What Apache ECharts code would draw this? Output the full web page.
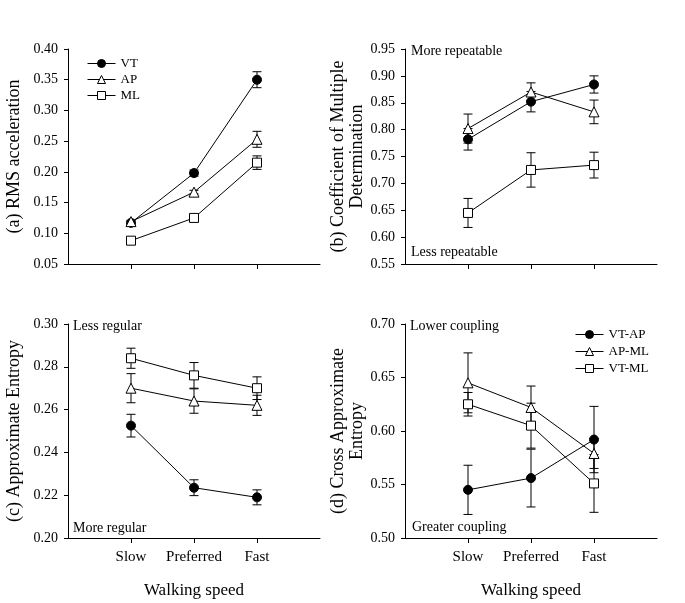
<!DOCTYPE html>
<html>
<head>
<meta charset="utf-8">
<script src="https://cdn.jsdelivr.net/npm/echarts@6/dist/echarts.min.js"></script>
<style>
  html, body { margin: 0; padding: 0; background: #fff; }
  #main { width: 685px; height: 603px; }
</style>
</head>
<body>
<div id="main"></div>
<script>
// walking speed categories, placed at x = 1, 2, 3
var speeds = ['Slow', 'Preferred', 'Fast'];
var speedX = [1, 2, 3];

// (a) RMS acceleration
var rmsVT = [0.117, 0.198, 0.350], rmsVTErr = [0.003, 0.005, 0.013];
var rmsAP = [0.119, 0.167, 0.253], rmsAPErr = [0.002, 0.003, 0.013];
var rmsML = [0.088, 0.125, 0.215], rmsMLErr = [0.002, 0.003, 0.011];

// (b) coefficient of multiple determination
var cmdVT = [0.782, 0.852, 0.884], cmdVTErr = [0.020, 0.019, 0.016];
var cmdAP = [0.802, 0.870, 0.833], cmdAPErr = [0.027, 0.017, 0.022];
var cmdML = [0.645, 0.725, 0.734], cmdMLErr = [0.027, 0.032, 0.024];

// (c) approximate entropy
var apeVT = [0.2525, 0.2235, 0.219], apeVTErr = [0.0053, 0.0037, 0.0035];
var apeAP = [0.270, 0.264, 0.262], apeAPErr = [0.0068, 0.0057, 0.0047];
var apeML = [0.284, 0.276, 0.270], apeMLErr = [0.0047, 0.006, 0.0053];

// (d) cross approximate entropy
var xapVTAP = [0.545, 0.556, 0.592], xapVTAPErr = [0.023, 0.027, 0.031];
var xapAPML = [0.645, 0.622, 0.579], xapAPMLErr = [0.028, 0.020, 0.014];
var xapVTML = [0.625, 0.605, 0.551], xapVTMLErr = [0.011, 0.021, 0.027];

var FONT = '"Liberation Serif", "Times New Roman", serif';

var chart = echarts.init(document.getElementById('main'));

var grids = [
  { left: 68, top: 49, width: 252, height: 215 },
  { left: 405, top: 49, width: 252, height: 215 },
  { left: 68, top: 324, width: 252, height: 214 },
  { left: 405, top: 324, width: 252, height: 214 }
];

function xAxis(idx, showLabels) {
  return {
    type: 'value', gridIndex: idx, min: 0, max: 4, interval: 1,
    axisLine: { lineStyle: { color: '#000', width: 1 } },
    axisTick: { show: true, length: 5, customValues: speedX, lineStyle: { color: '#000' } },
    splitLine: { show: false },
    axisLabel: {
      show: showLabels, customValues: speedX, margin: 12,
      fontFamily: FONT, fontSize: 15, color: '#000',
      formatter: function (v) { return speeds[v - 1] || ''; }
    },
    name: showLabels ? 'Walking speed' : '',
    nameLocation: 'middle', nameGap: 44,
    nameTextStyle: { fontFamily: FONT, fontSize: 17, color: '#000' }
  };
}

function yAxis(idx, min, max, interval, name, gap) {
  return {
    type: 'value', gridIndex: idx, min: min, max: max, interval: interval,
    axisLine: { show: true, lineStyle: { color: '#000', width: 1 } },
    axisTick: { show: true, inside: false, length: 4, lineStyle: { color: '#000' } },
    splitLine: { show: false },
    axisLabel: {
      margin: 10, fontFamily: FONT, fontSize: 14, color: '#000',
      formatter: function (v) { return v.toFixed(2); }
    },
    name: name, nameLocation: 'middle', nameGap: gap,
    nameTextStyle: { fontFamily: FONT, fontSize: 18, color: '#000', lineHeight: 19 }
  };
}

var markers = {
  filled: { symbol: 'circle', symbolSize: 9, itemStyle: { color: '#000', borderColor: '#000', borderWidth: 1 } },
  tri: { symbol: 'triangle', symbolSize: 10, itemStyle: { color: '#fff', borderColor: '#000', borderWidth: 1 } },
  sq: { symbol: 'rect', symbolSize: 9, itemStyle: { color: '#fff', borderColor: '#000', borderWidth: 1 } }
};

var series = [];
function addGroup(idx, name, vals, errs, mk) {
  var pts = vals.map(function (v, i) { return [speedX[i], v]; });
  var bars = vals.map(function (v, i) { return [speedX[i], v, errs[i]]; });
  series.push({
    type: 'custom', xAxisIndex: idx, yAxisIndex: idx, z: 1, silent: true,
    data: bars,
    renderItem: function (params, api) {
      var x = api.value(0), y = api.value(1), e = api.value(2);
      var top = api.coord([x, y + e]);
      var bot = api.coord([x, y - e]);
      var half = 4.5;
      var st = { stroke: '#000', lineWidth: 1 };
      return {
        type: 'group',
        children: [
          { type: 'line', shape: { x1: top[0], y1: top[1], x2: bot[0], y2: bot[1] }, style: st },
          { type: 'line', shape: { x1: top[0] - half, y1: top[1], x2: top[0] + half, y2: top[1] }, style: st },
          { type: 'line', shape: { x1: bot[0] - half, y1: bot[1], x2: bot[0] + half, y2: bot[1] }, style: st }
        ]
      };
    }
  });
  series.push({
    type: 'line', name: name, xAxisIndex: idx, yAxisIndex: idx, z: 3,
    data: pts, symbol: mk.symbol, symbolSize: mk.symbolSize, showAllSymbol: true,
    itemStyle: mk.itemStyle,
    lineStyle: { color: '#000', width: 1 },
    animation: false
  });
}

addGroup(0, 'VT', rmsVT, rmsVTErr, markers.filled);
addGroup(0, 'AP', rmsAP, rmsAPErr, markers.tri);
addGroup(0, 'ML', rmsML, rmsMLErr, markers.sq);
addGroup(1, 'VT', cmdVT, cmdVTErr, markers.filled);
addGroup(1, 'AP', cmdAP, cmdAPErr, markers.tri);
addGroup(1, 'ML', cmdML, cmdMLErr, markers.sq);
addGroup(2, 'VT', apeVT, apeVTErr, markers.filled);
addGroup(2, 'AP', apeAP, apeAPErr, markers.tri);
addGroup(2, 'ML', apeML, apeMLErr, markers.sq);
addGroup(3, 'VT-AP', xapVTAP, xapVTAPErr, markers.filled);
addGroup(3, 'AP-ML', xapAPML, xapAPMLErr, markers.tri);
addGroup(3, 'VT-ML', xapVTML, xapVTMLErr, markers.sq);

function note(x, y, txt) {
  return { type: 'text', left: x, top: y, style: { text: txt, fontFamily: FONT, fontSize: 14, fill: '#000' } };
}

var legendText = { fontFamily: FONT, fontSize: 13, color: '#000' };
var legendLine = { color: '#000', width: 1 };
var legendItem = { borderWidth: 1, borderColor: '#000' };

var option = {
  backgroundColor: '#fff',
  animation: false,
  grid: grids,
  xAxis: [xAxis(0, false), xAxis(1, false), xAxis(2, true), xAxis(3, true)],
  yAxis: [
    yAxis(0, 0.05, 0.40, 0.05, '(a) RMS acceleration', 44),
    yAxis(1, 0.55, 0.95, 0.05, '(b) Coefficient of Multiple\nDetermination', 38),
    yAxis(2, 0.20, 0.30, 0.02, '(c) Approximate Entropy', 44),
    yAxis(3, 0.50, 0.70, 0.05, '(d) Cross Approximate\nEntropy', 36)
  ],
  legend: [
    {
      data: ['VT', 'AP', 'ML'], orient: 'vertical', left: 87, top: 57, padding: 0,
      itemWidth: 28, itemHeight: 10, itemGap: 3, textStyle: legendText,
      lineStyle: legendLine, itemStyle: legendItem, selectedMode: false
    },
    {
      data: ['VT-AP', 'AP-ML', 'VT-ML'], orient: 'vertical', left: 575, top: 328, padding: 0,
      itemWidth: 28, itemHeight: 10, itemGap: 4, textStyle: legendText,
      lineStyle: legendLine, itemStyle: legendItem, selectedMode: false
    }
  ],
  graphic: [
    note(411, 44, 'More repeatable'),
    note(411, 245, 'Less repeatable'),
    note(73, 319, 'Less regular'),
    note(73, 521, 'More regular'),
    note(410, 319, 'Lower coupling'),
    note(412, 520, 'Greater coupling')
  ],
  series: series
};

chart.setOption(option);
</script>
</body>
</html>
